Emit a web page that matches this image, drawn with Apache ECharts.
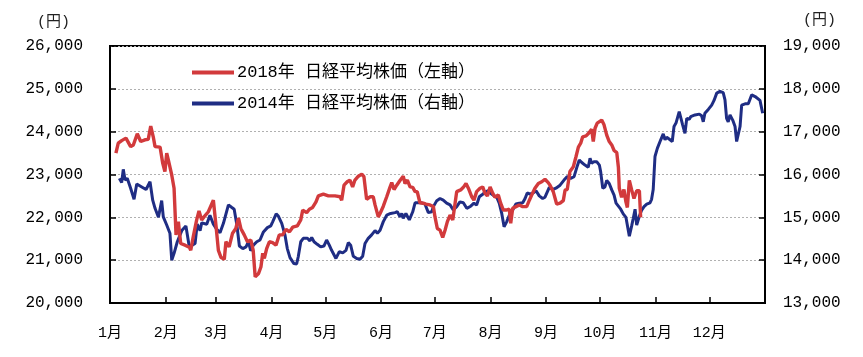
<!DOCTYPE html>
<html><head><meta charset="utf-8">
<script src="https://cdn.jsdelivr.net/npm/echarts@6/dist/echarts.min.js"></script>
<style>html,body{margin:0;padding:0;background:#fff}#c{width:863px;height:357px}</style>
</head><body><div id="c"></div>
<script>
// Month labels (x axis), start day-of-year of each month
const monthLabels = ['1月','2月','3月','4月','5月','6月','7月','8月','9月','10月','11月','12月'];
const monthStarts = [0,31,59,90,120,151,181,212,243,273,304,334];
const leftTicks = [20000,21000,22000,23000,24000,25000,26000];
const rightTicks = [13000,14000,15000,16000,17000,18000,19000];

// 2018 Nikkei (left axis): day-of-year and close
const days2018 = [3.3,4.6,6.5,8.9,11.5,13,15.2,17.1,19.5,21.3,22.7,24.1,25.1,27.9,29.4,30.6,31.6,32.5,34.4,35.7,36.8,38.1,39.4,41.8,44.2,45,46.4,48.3,49.6,51.1,52.4,54.8,57.6,59.2,60.4,61.9,63.7,64.6,66.4,68.3,70.1,71.6,72.9,74.8,76.6,78.5,79.8,80.9,82.8,84.1,85.1,86,87.3,88.8,90.6,92.5,94.3,96.2,98.1,100,101.8,104.4,106.3,107.4,109.6,111.1,112.9,114.8,116.1,118.9,121.7,122.6,125.4,128.2,129.1,130.4,132.2,133.7,135.2,136.5,138.4,140.3,141.5,143,144.9,146.7,147.7,149.5,150.5,152.3,154.2,156,157,158.3,159.8,161.6,163.4,164.4,165.7,167.2,168.7,170,171.2,172.7,174.6,176.1,178.3,180.2,181.1,182.4,183.9,185.4,186.7,188,189.5,191,192.3,193.2,195.4,196.9,198.4,199.7,201.6,202.8,204.3,206.2,207.7,209,210.3,211.8,213.3,214.5,216.4,217.7,219.2,220.7,222.5,223.3,224.4,226.2,228.1,230,232.2,233.7,235,236.8,238.7,240.6,242.4,244.2,245.2,247,248.9,250.8,252.6,253.6,254.8,256.3,258.2,259.7,261,262.3,263.4,265.3,267.1,268.4,269.3,270.3,271.5,274,275.3,276.8,278.2,279.6,280.9,282.4,283.3,283.8,285.1,286.4,287.5,288.3,289.4,290.7,292,293.5,295,295.7];
const nikkei2018 = [23500,23730,23790,23850,23650,23690,23950,23770,23810,23820,24130,23880,23650,23640,23260,23070,23500,23340,22990,22680,21590,21900,21390,21350,21300,21230,21550,21940,22150,21940,22010,22130,22400,21750,21230,21060,21020,21430,21310,21630,21740,21980,21740,21590,21430,21470,21230,20610,20690,20840,21160,21040,21270,21430,21410,21350,21590,21590,21720,21660,21770,21800,21940,22170,22110,22190,22230,22360,22500,22540,22500,22500,22500,22480,22400,22750,22830,22870,22710,22870,22960,23010,22950,22420,22480,22480,22290,22010,22090,22260,22480,22700,22810,22650,22750,22860,22960,22790,22870,22710,22700,22600,22600,22340,22330,22310,22290,22250,22010,21740,21700,21530,21700,21900,22050,21940,22330,22600,22640,22700,22790,22680,22480,22400,22600,22680,22710,22560,22500,22710,22560,22470,22520,22330,22170,22170,22190,21860,22210,22250,22290,22250,22250,22400,22520,22680,22790,22830,22890,22810,22750,22600,22310,22330,22390,22640,22650,23070,23180,23420,23640,23730,23880,23900,23980,24060,23770,24080,24200,24270,24160,23920,23770,23690,23560,23510,23170,22680,22470,22650,22360,22230,22860,22640,22440,22620,22620,22000];

// 2014 Nikkei (right axis): day-of-year and close
const days2014 = [5.2,6.5,7.4,8.4,9.6,11.5,13.4,14.9,17.7,20.1,22.3,23.8,25.1,27,27.9,28.8,29.7,31.6,33.4,34.4,35.7,37.5,40,42.3,44.2,47.4,48.6,50.2,51.1,53.9,55.7,57.6,59.5,61.3,63.2,65.2,66,67.9,69.2,70.7,72.1,74,75.8,77.1,78.4,79.9,81.8,83.6,85.5,87.7,89.6,90.7,92.6,93.8,95.7,97.5,98.8,100.3,102.5,104,104.9,106.3,107.7,110,111.4,112.4,113.7,115.5,117.4,119.2,120.7,122.2,123.5,125.9,127.8,129.7,131.5,132.8,134.1,135.6,137.5,139.3,140.8,142.1,143.9,145.8,147.7,149,150.5,152.3,154.2,156.4,158.8,160.1,161.6,162.6,163.4,164.9,166.8,168.7,170,171.8,173.7,175.5,177.4,179.3,180.2,182.1,183.9,185.7,187.6,189.5,191.3,193.2,195,196.9,198.8,201,202.8,204.3,205.8,207.7,209.5,210.8,212.1,214,215.5,216.9,218.3,219.6,221.1,222.5,224.4,226.2,228.1,230,231.3,232.5,234,235.9,237.4,239.2,241.1,242.4,244.8,246.7,248.5,250.8,253,254.8,256.7,258.6,260.4,261.5,262.9,264.7,266.5,267.5,268.4,269.7,271.2,272.7,273.4,274.6,275.8,276.8,278.2,279.6,280.9,282,283.3,284.6,286,287.5,288.3,289.4,290.7,291.6,292.6,293.5,295,296.3,297.6,299.1,300.9,301.8,302.7,303.7,305,306.9,308.3,309.3,310.2,312.1,313.3,314.3,315.4,317.2,318,319.1,320.4,321.4,322.8,323.6,326,328.4,329.7,330.6,331.5,333.4,335.3,336.6,338.1,339.9,341.7,342.7,343.6,344.5,345.5,347,348.3,349.2,350.3,351.1,352,353.9,355.7,357.6,359.5,362.2,363.7];
const nikkei2014 = [15910,15810,16120,15870,15910,15680,15420,15780,15710,15650,15830,15400,15210,15000,14980,15390,15010,14820,14630,14000,14160,14430,14690,14800,14310,14390,14840,14690,14870,14840,15050,14840,14720,14640,14860,15170,15290,15230,15190,14820,14330,14270,14310,14430,14220,14350,14430,14470,14660,14760,14800,14900,15080,15030,14860,14590,14270,14060,13920,13910,14080,14430,14510,14510,14450,14530,14430,14370,14310,14330,14470,14350,14230,14040,14200,14170,14230,14410,14350,14090,14040,14020,14090,14390,14510,14590,14690,14630,14700,14900,15050,15090,15110,15130,15010,15090,14980,15090,14940,15130,15340,15340,15340,15310,15110,15130,15250,15390,15440,15400,15330,15290,15170,15250,15360,15340,15210,15260,15330,15290,15480,15540,15600,15620,15560,15500,15470,15330,15090,14780,14900,15050,15170,15310,15330,15340,15440,15570,15540,15570,15620,15500,15440,15470,15700,15650,15680,15750,15870,15950,15910,15950,16200,16340,16280,16220,16170,16380,16260,16300,16300,16220,16070,15680,15710,15860,15790,15640,15520,15330,15260,15190,15080,15000,15030,14560,14800,14980,15190,14820,15030,15170,15250,15310,15340,15420,15650,16420,16610,16810,16950,16810,16870,16810,16770,17120,17200,17470,17430,17160,16960,17310,17290,17350,17390,17410,17370,17230,17430,17520,17620,17730,17900,17940,17910,17740,17310,17230,17390,17270,17120,16770,16810,17120,17620,17650,17650,17860,17820,17730,17430];

const name2018 = '2018年 日経平均株価（左軸）';
const name2014 = '2014年 日経平均株価（右軸）';
const RED = '#d23a3c';
const BLUE = '#1f2d84';
const FONT = "'Liberation Mono','Noto Sans CJK JP',monospace";
const fmt = v => v.toLocaleString('en-US');

const chart = echarts.init(document.getElementById('c'), null, {renderer:'canvas'});
chart.setOption({
  animation: false,
  backgroundColor: '#fff',
  grid: {left:110, right:98, top:46, bottom:54, show:true, borderColor:'#000', borderWidth:2, backgroundColor:'transparent'},
  legend: {
    orient:'vertical', left:187, top:58, itemGap:12, itemWidth:42, itemHeight:4, icon:'rect',
    data:[name2018, name2014],
    textStyle:{fontFamily:FONT, fontSize:17, color:'#000', lineHeight:19, padding:[0,0,0,-2]}
  },
  xAxis: {
    type:'value', min:0, max:365,
    axisLine:{show:true, lineStyle:{color:'#000', width:2}},
    axisTick:{show:true, inside:true, length:6, lineStyle:{color:'#000', width:1.5}, customValues: monthStarts.slice(1)},
    axisLabel:{customValues: monthStarts, formatter: v => monthLabels[monthStarts.indexOf(v)] || '', fontFamily:FONT, fontSize:15, color:'#000', margin:23},
    splitLine:{show:false}
  },
  yAxis: [{
    type:'value', min:leftTicks[0], max:leftTicks[leftTicks.length-1], interval:1000, position:'left',
    axisLine:{show:true, lineStyle:{color:'#000', width:2}},
    axisTick:{show:true, inside:true, length:6, lineStyle:{color:'#000', width:1.5}},
    axisLabel:{formatter: fmt, fontFamily:FONT, fontSize:16, color:'#000', margin:27},
    splitLine:{show:true, lineStyle:{color:'#b0b0b0', type:[2,2], width:1}}
  },{
    type:'value', min:rightTicks[0], max:rightTicks[rightTicks.length-1], interval:1000, position:'right',
    axisLine:{show:true, lineStyle:{color:'#000', width:2}},
    axisTick:{show:true, inside:true, length:6, lineStyle:{color:'#000', width:1.5}},
    axisLabel:{formatter: fmt, fontFamily:FONT, fontSize:16, color:'#000', margin:18},
    splitLine:{show:false}
  }],
  graphic: [
    {type:'text', left:37, top:15, style:{text:'(円)', font:"15px 'Liberation Mono','Noto Sans CJK JP'", fill:'#222'}},
    {type:'text', left:803, top:13, style:{text:'(円)', font:"15px 'Liberation Mono','Noto Sans CJK JP'", fill:'#222'}}
  ],
  series: [
    {name:name2014, type:'line', yAxisIndex:1, symbol:'none', data: days2014.map((d,i)=>[d, nikkei2014[i]]), lineStyle:{color:BLUE, width:3}, itemStyle:{color:BLUE}},
    {name:name2018, type:'line', yAxisIndex:0, symbol:'none', data: days2018.map((d,i)=>[d, nikkei2018[i]]), lineStyle:{color:RED, width:3.4}, itemStyle:{color:RED}}
  ]
});
</script></body></html>
